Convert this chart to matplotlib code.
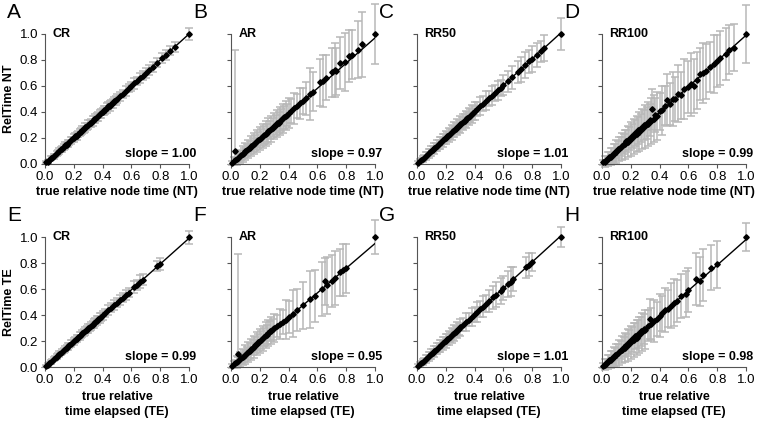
#!/usr/bin/env python3
"""RelTime estimates vs true relative times, 2x4 panels with CI error bars."""
import matplotlib
matplotlib.use("Agg")
import matplotlib.pyplot as plt

plt.rcParams.update({
    "font.family": ["Liberation Sans", "DejaVu Sans"],
    "font.size": 9,
})
GREY = "#b8b8b8"
AXIS = "#555555"

# (true time, RelTime estimate, CI half-width)
A_pts = [(0.01, 0.012, 0.008), (0.02, 0.017, 0.012), (0.03, 0.031, 0.010), (0.04, 0.044, 0.016),
         (0.05, 0.048, 0.012), (0.06, 0.060, 0.018), (0.07, 0.066, 0.014), (0.08, 0.083, 0.020),
         (0.09, 0.089, 0.016), (0.10, 0.102, 0.022), (0.11, 0.113, 0.018), (0.12, 0.117, 0.024),
         (0.13, 0.131, 0.020), (0.14, 0.144, 0.026), (0.15, 0.148, 0.019), (0.16, 0.160, 0.027),
         (0.17, 0.166, 0.022), (0.18, 0.183, 0.028), (0.19, 0.189, 0.021), (0.20, 0.202, 0.030),
         (0.21, 0.212, 0.024), (0.22, 0.217, 0.031), (0.23, 0.231, 0.023), (0.24, 0.244, 0.029),
         (0.25, 0.248, 0.026), (0.26, 0.260, 0.032), (0.27, 0.266, 0.025), (0.28, 0.283, 0.033),
         (0.29, 0.289, 0.027), (0.30, 0.302, 0.034), (0.31, 0.312, 0.028), (0.32, 0.317, 0.030),
         (0.33, 0.331, 0.035), (0.34, 0.344, 0.027), (0.35, 0.348, 0.033), (0.36, 0.360, 0.029),
         (0.37, 0.366, 0.036), (0.38, 0.383, 0.030), (0.39, 0.389, 0.034), (0.40, 0.402, 0.028),
         (0.41, 0.412, 0.037), (0.42, 0.417, 0.031), (0.43, 0.431, 0.035), (0.44, 0.444, 0.030),
         (0.45, 0.448, 0.038), (0.46, 0.460, 0.032), (0.47, 0.466, 0.036), (0.48, 0.483, 0.029),
         (0.49, 0.489, 0.037), (0.50, 0.502, 0.033), (0.52, 0.522, 0.035), (0.54, 0.537, 0.030),
         (0.56, 0.561, 0.038), (0.58, 0.584, 0.033), (0.60, 0.598, 0.036), (0.62, 0.620, 0.040),
         (0.64, 0.636, 0.032), (0.66, 0.663, 0.037), (0.68, 0.679, 0.034), (0.70, 0.702, 0.039),
         (0.72, 0.722, 0.036), (0.75, 0.747, 0.040), (0.78, 0.780, 0.035), (0.81, 0.812, 0.038),
         (0.84, 0.838, 0.036), (0.87, 0.873, 0.035), (0.90, 0.899, 0.037), (1.00, 1.000, 0.045)]

B_pts = [(0.01, 0.010, 0.015), (0.02, 0.021, 0.030), (0.03, 0.028, 0.020), (0.04, 0.040, 0.045),
         (0.05, 0.048, 0.030), (0.06, 0.059, 0.050), (0.07, 0.067, 0.035), (0.08, 0.079, 0.060),
         (0.09, 0.086, 0.040), (0.10, 0.098, 0.065), (0.11, 0.106, 0.045), (0.12, 0.118, 0.070),
         (0.13, 0.125, 0.050), (0.14, 0.137, 0.075), (0.15, 0.144, 0.055), (0.16, 0.157, 0.080),
         (0.17, 0.164, 0.058), (0.18, 0.176, 0.085), (0.19, 0.183, 0.060), (0.20, 0.196, 0.088),
         (0.21, 0.203, 0.065), (0.22, 0.215, 0.090), (0.23, 0.222, 0.068), (0.24, 0.234, 0.095),
         (0.25, 0.241, 0.070), (0.26, 0.254, 0.098), (0.27, 0.261, 0.072), (0.28, 0.273, 0.100),
         (0.29, 0.280, 0.075), (0.30, 0.292, 0.102), (0.31, 0.300, 0.078), (0.32, 0.312, 0.105),
         (0.33, 0.319, 0.080), (0.34, 0.331, 0.108), (0.35, 0.338, 0.082), (0.36, 0.351, 0.110),
         (0.37, 0.358, 0.085), (0.38, 0.370, 0.112), (0.39, 0.377, 0.088), (0.40, 0.389, 0.115),
         (0.42, 0.408, 0.090), (0.44, 0.428, 0.118), (0.46, 0.447, 0.095), (0.48, 0.467, 0.120),
         (0.50, 0.486, 0.100), (0.52, 0.505, 0.125), (0.55, 0.540, 0.200), (0.57, 0.555, 0.150),
         (0.62, 0.630, 0.180), (0.64, 0.642, 0.200), (0.66, 0.665, 0.170), (0.70, 0.705, 0.190),
         (0.72, 0.722, 0.210), (0.73, 0.712, 0.180), (0.76, 0.778, 0.200), (0.79, 0.785, 0.220),
         (0.82, 0.830, 0.200), (0.84, 0.842, 0.190), (0.88, 0.880, 0.220), (0.91, 0.920, 0.250),
         (1.00, 1.000, 0.230)]

C_pts = [(0.01, 0.010, 0.010), (0.02, 0.021, 0.018), (0.03, 0.030, 0.014), (0.04, 0.041, 0.024),
         (0.05, 0.050, 0.018), (0.06, 0.061, 0.030), (0.07, 0.071, 0.022), (0.08, 0.081, 0.034),
         (0.09, 0.091, 0.026), (0.10, 0.101, 0.038), (0.11, 0.111, 0.028), (0.12, 0.121, 0.042),
         (0.13, 0.131, 0.030), (0.14, 0.142, 0.045), (0.15, 0.151, 0.033), (0.16, 0.162, 0.048),
         (0.17, 0.171, 0.035), (0.18, 0.182, 0.050), (0.19, 0.191, 0.037), (0.20, 0.203, 0.052),
         (0.21, 0.212, 0.038), (0.22, 0.223, 0.055), (0.23, 0.232, 0.040), (0.24, 0.243, 0.057),
         (0.25, 0.252, 0.042), (0.26, 0.263, 0.058), (0.27, 0.272, 0.044), (0.28, 0.284, 0.060),
         (0.29, 0.292, 0.045), (0.30, 0.304, 0.062), (0.31, 0.313, 0.046), (0.32, 0.324, 0.063),
         (0.33, 0.333, 0.048), (0.34, 0.344, 0.065), (0.35, 0.353, 0.049), (0.36, 0.364, 0.066),
         (0.37, 0.373, 0.050), (0.38, 0.385, 0.068), (0.39, 0.393, 0.052), (0.40, 0.405, 0.069),
         (0.42, 0.424, 0.054), (0.44, 0.445, 0.070), (0.46, 0.464, 0.056), (0.48, 0.486, 0.072),
         (0.50, 0.505, 0.058), (0.52, 0.526, 0.074), (0.54, 0.545, 0.060), (0.56, 0.566, 0.075),
         (0.58, 0.585, 0.062), (0.60, 0.607, 0.078), (0.63, 0.637, 0.080), (0.66, 0.667, 0.090),
         (0.70, 0.708, 0.085), (0.72, 0.727, 0.095), (0.75, 0.758, 0.100), (0.78, 0.789, 0.090),
         (0.80, 0.808, 0.100), (0.83, 0.839, 0.090), (0.86, 0.868, 0.080), (0.88, 0.889, 0.100),
         (1.00, 1.000, 0.120)]

D_pts = [(0.01, 0.012, 0.020), (0.02, 0.018, 0.040), (0.03, 0.034, 0.030), (0.04, 0.037, 0.055),
         (0.05, 0.053, 0.040), (0.06, 0.056, 0.065), (0.07, 0.073, 0.050), (0.08, 0.077, 0.075),
         (0.09, 0.094, 0.058), (0.10, 0.096, 0.085), (0.11, 0.112, 0.065), (0.12, 0.116, 0.095),
         (0.13, 0.134, 0.070), (0.14, 0.135, 0.105), (0.15, 0.154, 0.078), (0.16, 0.152, 0.110),
         (0.17, 0.175, 0.085), (0.18, 0.172, 0.120), (0.19, 0.196, 0.090), (0.20, 0.192, 0.130),
         (0.21, 0.216, 0.095), (0.22, 0.212, 0.135), (0.23, 0.238, 0.100), (0.24, 0.230, 0.140),
         (0.25, 0.258, 0.105), (0.26, 0.250, 0.150), (0.27, 0.278, 0.110), (0.28, 0.270, 0.155),
         (0.29, 0.300, 0.115), (0.30, 0.290, 0.165), (0.31, 0.315, 0.120), (0.32, 0.305, 0.170),
         (0.33, 0.340, 0.125), (0.34, 0.330, 0.175), (0.35, 0.420, 0.160), (0.36, 0.350, 0.180),
         (0.37, 0.378, 0.130), (0.38, 0.372, 0.185), (0.40, 0.405, 0.140), (0.42, 0.412, 0.190),
         (0.44, 0.448, 0.150), (0.45, 0.490, 0.200), (0.47, 0.462, 0.160), (0.49, 0.500, 0.210),
         (0.51, 0.498, 0.170), (0.53, 0.540, 0.220), (0.55, 0.530, 0.180), (0.57, 0.575, 0.230),
         (0.60, 0.595, 0.200), (0.62, 0.612, 0.240), (0.64, 0.600, 0.210), (0.66, 0.645, 0.220),
         (0.68, 0.690, 0.200), (0.70, 0.700, 0.230), (0.72, 0.712, 0.210), (0.75, 0.745, 0.190),
         (0.78, 0.770, 0.220), (0.80, 0.790, 0.200), (0.82, 0.815, 0.210), (0.86, 0.850, 0.200),
         (0.88, 0.880, 0.190), (0.92, 0.895, 0.180), (1.00, 1.000, 0.220)]

E_pts = [(0.01, 0.011, 0.008), (0.02, 0.019, 0.012), (0.03, 0.030, 0.010), (0.04, 0.041, 0.015),
         (0.05, 0.049, 0.012), (0.06, 0.060, 0.017), (0.07, 0.068, 0.014), (0.08, 0.080, 0.019),
         (0.09, 0.089, 0.015), (0.10, 0.100, 0.021), (0.11, 0.109, 0.017), (0.12, 0.119, 0.022),
         (0.13, 0.129, 0.018), (0.14, 0.139, 0.024), (0.15, 0.148, 0.019), (0.16, 0.159, 0.025),
         (0.17, 0.168, 0.020), (0.18, 0.179, 0.026), (0.19, 0.188, 0.021), (0.20, 0.199, 0.027),
         (0.21, 0.207, 0.022), (0.22, 0.219, 0.028), (0.23, 0.227, 0.023), (0.24, 0.238, 0.029),
         (0.25, 0.247, 0.024), (0.26, 0.258, 0.030), (0.27, 0.267, 0.025), (0.28, 0.278, 0.031),
         (0.29, 0.287, 0.026), (0.30, 0.297, 0.032), (0.31, 0.306, 0.027), (0.32, 0.317, 0.033),
         (0.33, 0.326, 0.028), (0.34, 0.337, 0.034), (0.35, 0.346, 0.029), (0.36, 0.357, 0.035),
         (0.37, 0.366, 0.030), (0.38, 0.377, 0.036), (0.39, 0.385, 0.031), (0.40, 0.397, 0.037),
         (0.42, 0.415, 0.033), (0.44, 0.436, 0.038), (0.46, 0.455, 0.034), (0.48, 0.476, 0.039),
         (0.50, 0.494, 0.035), (0.52, 0.515, 0.040), (0.54, 0.534, 0.036), (0.56, 0.555, 0.041),
         (0.58, 0.573, 0.037), (0.62, 0.614, 0.045), (0.64, 0.632, 0.040), (0.66, 0.655, 0.050),
         (0.68, 0.672, 0.045), (0.78, 0.775, 0.040), (0.80, 0.792, 0.045), (1.00, 1.000, 0.050)]

F_pts = [(0.01, 0.010, 0.015), (0.02, 0.020, 0.030), (0.03, 0.029, 0.022), (0.04, 0.039, 0.045),
         (0.05, 0.048, 0.030), (0.06, 0.058, 0.055), (0.07, 0.067, 0.038), (0.08, 0.077, 0.062),
         (0.09, 0.086, 0.045), (0.10, 0.096, 0.070), (0.11, 0.106, 0.050), (0.12, 0.116, 0.075),
         (0.13, 0.126, 0.055), (0.14, 0.136, 0.080), (0.15, 0.147, 0.058), (0.16, 0.157, 0.085),
         (0.17, 0.168, 0.060), (0.18, 0.178, 0.088), (0.19, 0.189, 0.064), (0.20, 0.199, 0.090),
         (0.21, 0.210, 0.068), (0.22, 0.220, 0.095), (0.23, 0.232, 0.070), (0.24, 0.245, 0.098),
         (0.25, 0.248, 0.074), (0.26, 0.262, 0.100), (0.27, 0.275, 0.078), (0.28, 0.280, 0.105),
         (0.29, 0.290, 0.080), (0.30, 0.300, 0.110), (0.32, 0.312, 0.085), (0.34, 0.328, 0.115),
         (0.36, 0.345, 0.090), (0.38, 0.365, 0.150), (0.40, 0.385, 0.120), (0.43, 0.410, 0.180),
         (0.46, 0.440, 0.160), (0.50, 0.475, 0.180), (0.55, 0.520, 0.220), (0.58, 0.550, 0.200),
         (0.63, 0.600, 0.210), (0.65, 0.660, 0.180), (0.67, 0.630, 0.220), (0.70, 0.665, 0.200),
         (0.72, 0.685, 0.210), (0.76, 0.730, 0.180), (0.78, 0.750, 0.200), (0.80, 0.760, 0.190),
         (1.00, 1.000, 0.130)]

G_pts = [(0.01, 0.010, 0.010), (0.02, 0.021, 0.018), (0.03, 0.030, 0.014), (0.04, 0.041, 0.024),
         (0.05, 0.050, 0.018), (0.06, 0.061, 0.030), (0.07, 0.071, 0.022), (0.08, 0.081, 0.034),
         (0.09, 0.091, 0.026), (0.10, 0.101, 0.038), (0.11, 0.111, 0.028), (0.12, 0.121, 0.042),
         (0.13, 0.131, 0.030), (0.14, 0.142, 0.045), (0.15, 0.151, 0.033), (0.16, 0.162, 0.048),
         (0.17, 0.171, 0.035), (0.18, 0.182, 0.050), (0.19, 0.191, 0.037), (0.20, 0.203, 0.053),
         (0.21, 0.212, 0.039), (0.22, 0.223, 0.056), (0.23, 0.232, 0.041), (0.24, 0.243, 0.058),
         (0.25, 0.252, 0.043), (0.26, 0.263, 0.060), (0.27, 0.272, 0.045), (0.28, 0.284, 0.062),
         (0.29, 0.292, 0.047), (0.30, 0.304, 0.065), (0.32, 0.324, 0.050), (0.34, 0.344, 0.068),
         (0.36, 0.364, 0.052), (0.38, 0.385, 0.072), (0.40, 0.405, 0.055), (0.42, 0.424, 0.075),
         (0.44, 0.445, 0.060), (0.46, 0.464, 0.080), (0.48, 0.486, 0.065), (0.50, 0.505, 0.085),
         (0.53, 0.536, 0.090), (0.55, 0.556, 0.095), (0.58, 0.586, 0.100), (0.60, 0.607, 0.090),
         (0.63, 0.637, 0.100), (0.65, 0.657, 0.110), (0.67, 0.677, 0.090), (0.76, 0.768, 0.080),
         (0.78, 0.788, 0.090), (0.80, 0.808, 0.070), (1.00, 1.000, 0.080)]

H_pts = [(0.01, 0.011, 0.020), (0.02, 0.018, 0.040), (0.03, 0.033, 0.030), (0.04, 0.037, 0.055),
         (0.05, 0.052, 0.040), (0.06, 0.055, 0.065), (0.07, 0.072, 0.050), (0.08, 0.076, 0.075),
         (0.09, 0.092, 0.058), (0.10, 0.095, 0.085), (0.11, 0.111, 0.065), (0.12, 0.114, 0.095),
         (0.13, 0.132, 0.070), (0.14, 0.133, 0.105), (0.15, 0.152, 0.078), (0.16, 0.150, 0.110),
         (0.17, 0.172, 0.085), (0.18, 0.170, 0.120), (0.19, 0.193, 0.090), (0.20, 0.190, 0.125),
         (0.21, 0.212, 0.095), (0.22, 0.208, 0.130), (0.23, 0.235, 0.100), (0.24, 0.225, 0.135),
         (0.25, 0.254, 0.105), (0.26, 0.245, 0.140), (0.27, 0.275, 0.110), (0.28, 0.268, 0.145),
         (0.29, 0.292, 0.115), (0.30, 0.285, 0.150), (0.32, 0.318, 0.120), (0.33, 0.370, 0.155),
         (0.34, 0.330, 0.125), (0.36, 0.356, 0.160), (0.38, 0.372, 0.130), (0.40, 0.395, 0.165),
         (0.42, 0.412, 0.135), (0.44, 0.438, 0.170), (0.46, 0.450, 0.140), (0.48, 0.472, 0.175),
         (0.50, 0.495, 0.180), (0.52, 0.508, 0.160), (0.55, 0.548, 0.170), (0.58, 0.562, 0.180),
         (0.60, 0.590, 0.170), (0.65, 0.680, 0.200), (0.68, 0.660, 0.190), (0.70, 0.705, 0.200),
         (0.76, 0.765, 0.170), (0.80, 0.790, 0.180), (1.00, 1.000, 0.110)]

# the two AR outliers with lopsided intervals: (x, y, lower, upper)
B_outlier = [(0.03, 0.10, 0.10, 0.78)]
F_outlier = [(0.05, 0.10, 0.10, 0.77)]

panels = [
    ("A", "CR", A_pts, [], 1.00), ("B", "AR", B_pts, B_outlier, 0.97),
    ("C", "RR50", C_pts, [], 1.01), ("D", "RR100", D_pts, [], 0.99),
    ("E", "CR", E_pts, [], 0.99), ("F", "AR", F_pts, F_outlier, 0.95),
    ("G", "RR50", G_pts, [], 1.01), ("H", "RR100", H_pts, [], 0.98),
]
ticks = [0.0, 0.2, 0.4, 0.6, 0.8, 1.0]
tick_labels = ["0.0", "0.2", "0.4", "0.6", "0.8", "1.0"]


def bars(ax, x, y, err):
    cont = ax.errorbar(x, y, yerr=err, fmt="none", ecolor=GREY, elinewidth=1.1,
                       capsize=3, capthick=1.1, zorder=2)
    for art in list(cont.lines[1]) + list(cont.lines[2]):
        art.set_clip_on(False)


fig = plt.figure(figsize=(7.6, 4.21), dpi=100)
lefts = [45, 231, 417, 602]
tops = [34, 237]
W, H = 144, 130

for k, (letter, model, pts, outl, slope) in enumerate(panels):
    row, col = divmod(k, 4)
    ax = fig.add_axes([lefts[col] / 760, 1 - (tops[row] + H) / 421, W / 760, H / 421])
    x, y, e = zip(*pts)
    bars(ax, x, y, e)
    if outl:
        ox, oy, olo, ohi = zip(*outl)
        bars(ax, ox, oy, [olo, ohi])
    ax.plot([0, 1], [0, slope], color="black", lw=1.0, zorder=3)
    ax.plot(x, y, "D", ms=2.8, color="black", zorder=4, clip_on=False)
    if outl:
        ax.plot(ox, oy, "D", ms=2.8, color="black", zorder=4, clip_on=False)

    ax.set_xlim(0, 1)
    ax.set_ylim(0, 1)
    for s in ("top", "right"):
        ax.spines[s].set_visible(False)
    for s in ("left", "bottom"):
        ax.spines[s].set_color(AXIS)
    ax.set_xticks(ticks)
    ax.set_xticklabels(tick_labels, fontsize=9.5)
    ax.set_yticks(ticks)
    if col == 0:
        ax.set_yticklabels(tick_labels, fontsize=9.5)
        ax.set_ylabel("RelTime " + ("NT" if row == 0 else "TE"), fontweight="bold",
                      fontsize=9, labelpad=3)
    else:
        ax.set_yticklabels([])
    ax.tick_params(direction="out", length=3, width=0.8, pad=2, color=AXIS)
    if row == 0:
        ax.set_xlabel("true relative node time (NT)", fontweight="bold", fontsize=9,
                      labelpad=2)
    else:
        ax.set_xlabel("true relative\ntime elapsed (TE)", fontweight="bold", fontsize=9,
                      labelpad=4, linespacing=1.3)

    ax.text(0.05, 1.0, model, fontweight="bold", fontsize=9, va="center", ha="left")
    ax.text(1.05, 0.08, f"slope = {slope:.2f}", fontweight="bold", fontsize=9,
            va="center", ha="right")
    fig.text((lefts[col] - 38) / 760, 1 - (tops[row] - 22) / 421, letter,
             fontsize=15, va="center", ha="left")

fig.savefig("out.png", dpi=100)
